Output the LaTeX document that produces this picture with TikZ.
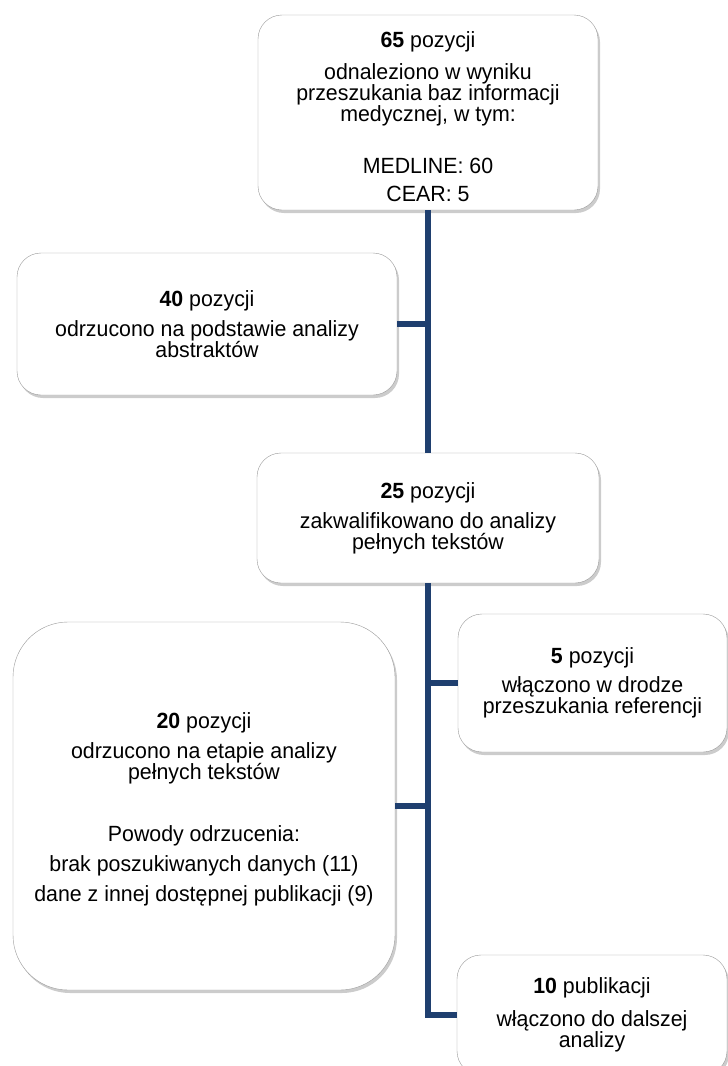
\documentclass[tikz,border=0pt]{standalone}
\usepackage{fontspec}
\setmainfont[FakeStretch=0.97]{Liberation Sans}
\usepackage{tikz}
\usetikzlibrary{shadows}
\definecolor{linkblue}{HTML}{1F3F6F}

\begin{document}
\begin{tikzpicture}[x=1pt, y=-1pt,
    box/.style={draw=black!40, fill=white, rounded corners=24pt, align=center, inner sep=0pt,
      drop shadow={shadow xshift=2pt, shadow yshift=-3pt, opacity=.4},
      font=\fontsize{22}{21}\selectfont},
    link/.style={draw=linkblue, line width=6pt}]
  \useasboundingbox (0,0) rectangle (728,1066);
  \clip (0,0) rectangle (728,1066);

  \node[box, minimum width=340pt, minimum height=195pt] (found) at (428,112.5)
    {\rule{0pt}{24pt}\textbf{65} pozycji\\[11pt] odnaleziono w wyniku\\ przeszukania baz informacji\\ medycznej, w tym:\\[31pt] MEDLINE: 60\\[7pt] CEAR: 5};
  \node[box, minimum width=380pt, minimum height=142pt] (abstr) at (207,324)
    {\textbf{40} pozycji\\[9pt] odrzucono na podstawie analizy\\ abstraktów};
  \node[box, minimum width=342pt, minimum height=130pt] (full) at (428,518)
    {\textbf{25} pozycji\\[9pt] zakwalifikowano do analizy\\ pełnych tekstów};
  \node[box, rounded corners=55pt, minimum width=382pt, minimum height=368pt] (rejected) at (204,806)
    {\rule{0pt}{22pt}\textbf{20} pozycji\\[9pt] odrzucono na etapie analizy\\ pełnych tekstów\\[41pt]
     Powody odrzucenia:\\[9pt] brak poszukiwanych danych (11)\\[9pt] dane z innej dostępnej publikacji (9)};
  \node[box, minimum width=269pt, minimum height=138pt] (refs) at (592.5,683)
    {\textbf{5} pozycji\\[8pt] włączono w drodze\\ przeszukania referencji};
  \node[box, minimum width=270pt, minimum height=120pt] (incl) at (592,1015)
    {\textbf{10} publikacji\\[12pt] włączono do dalszej\\ analizy};

  \draw[link] (found.south) -- (full.north);
  \draw[link] (full.south) -- (full.south |- incl.west) -- (incl.west);
  \draw[link] (abstr.east) -- (abstr.east -| found.south);
  \draw[link] (rejected.east) -- (rejected.east -| full.south);
  \draw[link] (refs.west) -- (refs.west -| full.south);
\end{tikzpicture}
\end{document}
